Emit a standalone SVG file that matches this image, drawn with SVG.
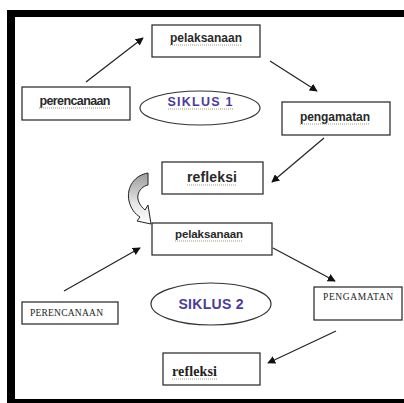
<svg xmlns="http://www.w3.org/2000/svg" width="404" height="403" viewBox="0 0 404 403">
<defs>
<style>
.box{fill:#fff;stroke:#222;stroke-width:1.2}
.ell{fill:#fff;stroke:#333;stroke-width:1.2}
.conn{stroke:#222;stroke-width:1.2;fill:none}
.sans{font-family:"Liberation Sans",Arial,sans-serif;font-weight:bold;fill:#2a2a2a}
.serif{font-family:"Liberation Serif","Times New Roman",serif;fill:#222}
.sik{font-family:"Liberation Sans",Arial,sans-serif;font-weight:bold;fill:#4b3a9e}
.wavy{stroke:#9a9a80;stroke-width:1;stroke-dasharray:1 1;fill:none}
</style>
<marker id="ah" viewBox="0 0 10 10" refX="9" refY="5" markerWidth="8" markerHeight="8" markerUnits="userSpaceOnUse" orient="auto">
<path d="M0,0 L10,5 L0,10 Z" fill="#111"/>
</marker>
<linearGradient id="grad" x1="0" y1="0" x2="0" y2="1">
<stop offset="0" stop-color="#9a9a9a"/>
<stop offset="0.6" stop-color="#e6e6e6"/>
<stop offset="1" stop-color="#ffffff"/>
</linearGradient>
</defs>
<rect width="404" height="403" fill="#fff"/>
<g id="frame">
<rect x="7" y="10" width="397" height="7" fill="#000"/>
<rect x="7" y="10" width="8" height="393" fill="#000"/>
<rect x="7" y="399" width="397" height="4" fill="#000"/>
</g>
<g id="connectors">
<line class="conn" x1="86" y1="82" x2="143" y2="38" marker-end="url(#ah)"/>
<line class="conn" x1="270" y1="61" x2="317" y2="91" marker-end="url(#ah)"/>
<line class="conn" x1="324" y1="138" x2="272" y2="182" marker-end="url(#ah)"/>
<line class="conn" x1="64" y1="291" x2="140" y2="248" marker-end="url(#ah)"/>
<line class="conn" x1="273" y1="248" x2="335" y2="281" marker-end="url(#ah)"/>
<line class="conn" x1="336" y1="331" x2="268" y2="363" marker-end="url(#ah)"/>
<path id="curved-arrow" d="M148,173 C135,175 126,187 129,201 C131,209 135,214 140,217 L137,221 L151,224 L148,205 L145,210 C140,206 137,200 138,195 C139,190 143,186 148,185 Z" fill="url(#grad)" stroke="#222" stroke-width="1"/>
</g>
<g id="pelaksanaan1">
<rect class="box" x="152" y="25" width="108" height="32"/>
<text class="sans" x="206" y="42" font-size="12" text-anchor="middle" textLength="72">pelaksanaan</text>
<line class="wavy" x1="170" y1="45" x2="242" y2="45"/>
</g>
<g id="perencanaan1">
<rect class="box" x="22" y="87" width="108" height="33"/>
<text class="sans" x="75" y="105" font-size="12.5" text-anchor="middle" textLength="71">perencanaan</text>
<line class="wavy" x1="39" y1="108" x2="110" y2="108"/>
</g>
<g id="siklus1">
<ellipse class="ell" cx="200" cy="108" rx="60" ry="17"/>
<text class="sik" x="200" y="106" font-size="12.5" text-anchor="middle" textLength="65">SIKLUS  1</text>
<line class="wavy" x1="168" y1="109" x2="233" y2="109"/>
</g>
<g id="pengamatan1">
<rect class="box" x="282" y="102" width="108" height="33"/>
<text class="sans" x="335" y="121" font-size="12" text-anchor="middle" textLength="70">pengamatan</text>
<line class="wavy" x1="300" y1="124" x2="370" y2="124"/>
</g>
<g id="refleksi1">
<rect class="box" x="162" y="162" width="101" height="32"/>
<text class="sans" x="212" y="182" font-size="14" text-anchor="middle" textLength="50">refleksi</text>
<line class="wavy" x1="187" y1="185" x2="237" y2="185"/>
</g>
<g id="pelaksanaan2">
<rect class="box" x="152" y="223" width="120" height="32"/>
<text class="sans" x="209" y="238" font-size="11.5" text-anchor="middle" textLength="68">pelaksanaan</text>
<line class="wavy" x1="175" y1="241" x2="243" y2="241"/>
</g>
<g id="perencanaan2">
<rect class="box" x="22" y="302" width="96" height="22"/>
<text class="serif" x="30" y="316" font-size="9.5" textLength="73">PERENCANAAN</text>
</g>
<g id="siklus2">
<ellipse class="ell" cx="211" cy="304" rx="60" ry="21"/>
<text class="sik" x="211" y="309" font-size="14" text-anchor="middle" textLength="65">SIKLUS 2</text>
</g>
<g id="pengamatan2">
<rect class="box" x="314" y="287" width="88" height="33"/>
<text class="serif" x="323" y="300" font-size="9.5" textLength="70">PENGAMATAN</text>
</g>
<g id="refleksi2">
<rect class="box" x="163" y="353" width="97" height="32"/>
<text class="serif" x="172" y="376" font-size="14" font-weight="bold" textLength="45">refleksi</text>
<line class="wavy" x1="172" y1="379" x2="217" y2="379"/>
</g>
</svg>
